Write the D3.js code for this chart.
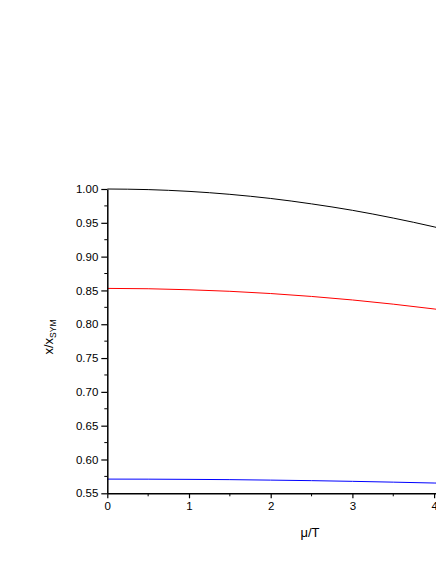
<!DOCTYPE html>
<html>
<head>
<meta charset="utf-8">
<script src="https://cdn.jsdelivr.net/npm/d3@7"></script>
<style>
  body { margin: 0; background: #fff; }
  svg { display: block; font-family: "Liberation Sans", Arial, sans-serif; }
</style>
</head>
<body>
<div id="chart"></div>
<script>
const width = 436;
const height = 564;

// mu/T sample points and the three curves
const muValues = [0, 0.5, 1, 1.5, 2, 2.5, 3, 3.5, 4, 4.5];
const blackValues = [1.000, 0.9991, 0.9965, 0.9921, 0.986, 0.978, 0.9685, 0.957, 0.944, 0.929];
const redValues = [0.853, 0.8525, 0.851, 0.8487, 0.8454, 0.8411, 0.8359, 0.8297, 0.8226, 0.8145];
const blueValues = [0.571, 0.5709, 0.5706, 0.5702, 0.5695, 0.5687, 0.5677, 0.5665, 0.5652, 0.5637];
const seriesColors = ["#000000", "#ff0000", "#0000ff"];

const xTicks = [0, 1, 2, 3, 4, 5];
const yTicks = [0.55, 0.60, 0.65, 0.70, 0.75, 0.80, 0.85, 0.90, 0.95, 1.00];

const x = d3.scaleLinear().domain([0, 5]).range([107.3, 515.8]);
const y = d3.scaleLinear().domain([0.55, 1.0]).range([493.3, 189]);

const svg = d3.select("#chart").append("svg")
  .attr("width", width)
  .attr("height", height);

const series = [blackValues, redValues, blueValues];
const line = d3.line()
  .x((d, i) => x(muValues[i]))
  .y(d => y(d))
  .curve(d3.curveMonotoneX);

series.forEach((vals, k) => {
  svg.append("path")
    .datum(vals)
    .attr("fill", "none")
    .attr("stroke", seriesColors[k])
    .attr("stroke-width", 1)
    .attr("d", line);
});

// minor ticks
const xMinor = d3.range(0.5, 5, 1);
const yMinor = d3.range(0.575, 1.0, 0.05);

const xAxis = svg.append("g")
  .attr("transform", `translate(0,${y(0.55)})`)
  .call(d3.axisBottom(x).tickValues(xTicks).tickFormat(d3.format("d")).tickSize(5).tickSizeOuter(0).tickPadding(4));
xAxis.append("g").selectAll("line").data(xMinor).join("line")
  .attr("x1", d => x(d)).attr("x2", d => x(d))
  .attr("y1", 0).attr("y2", 3)
  .attr("stroke", "#000");

const yAxis = svg.append("g")
  .attr("transform", `translate(${x(0)},0)`)
  .call(d3.axisLeft(y).tickValues(yTicks).tickFormat(d3.format(".2f")).tickSize(6).tickSizeOuter(0).tickPadding(3));
yAxis.append("g").selectAll("line").data(yMinor).join("line")
  .attr("x1", 0).attr("x2", -3)
  .attr("y1", d => y(d)).attr("y2", d => y(d))
  .attr("stroke", "#000");

[xAxis, yAxis].forEach(g => {
  g.select(".domain").attr("stroke-width", 1.5);
  g.selectAll(".tick line").attr("stroke-width", 1.2);
  g.selectAll("text").attr("font-size", 11.5).attr("fill", "#000")
    .attr("font-family", "'Liberation Sans', Arial, sans-serif");
});

// axis titles
svg.append("text")
  .attr("x", 310)
  .attr("y", 537)
  .attr("text-anchor", "middle")
  .attr("font-size", 13)
  .text("μ/T");

const yl = svg.append("text")
  .attr("transform", "translate(52.5,337) rotate(-90)")
  .attr("text-anchor", "middle")
  .attr("font-size", 13);
yl.append("tspan").text("x/x");
yl.append("tspan").attr("font-size", 8.5).attr("dy", 3.5).text("SYM");
</script>
</body>
</html>
